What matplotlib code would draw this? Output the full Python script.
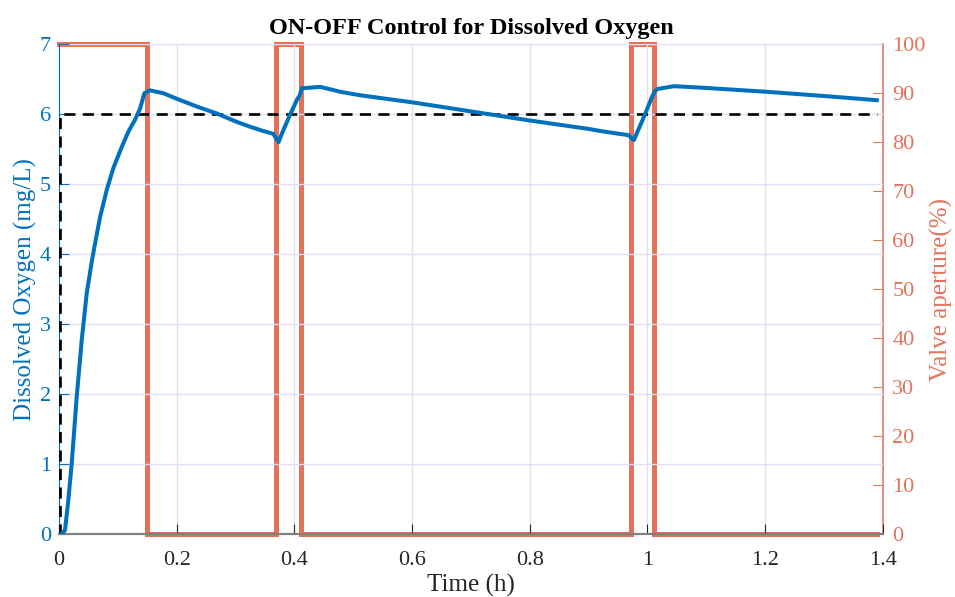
import numpy as np
import matplotlib
matplotlib.use('Agg')
import matplotlib.pyplot as plt

# dissolved oxygen trace (time in h, mg/L)
t_do = [0.0, 0.0044, 0.010, 0.0157, 0.0214, 0.0299, 0.0384, 0.0469, 0.0554, 0.061, 0.0696,
        0.081, 0.0922, 0.1064, 0.1177, 0.129, 0.1376, 0.145, 0.1546,
        0.177, 0.200, 0.234, 0.268, 0.302, 0.325, 0.347, 0.364, 0.373,
        0.381, 0.393, 0.404, 0.409, 0.4125, 0.444, 0.478,
        0.512, 0.600, 0.700, 0.800, 0.900, 0.920, 0.968, 0.977,
        0.994, 1.008, 1.013, 1.017, 1.045, 1.090, 1.203, 1.300, 1.390]
do_val = [0.0, 0.0, 0.06, 0.49, 1.01, 1.96, 2.77, 3.44, 3.89, 4.15, 4.53,
          4.92, 5.23, 5.53, 5.75, 5.92, 6.08, 6.30, 6.34,
          6.30, 6.22, 6.11, 6.01, 5.89, 5.82, 5.76, 5.72, 5.60,
          5.77, 6.00, 6.20, 6.27, 6.37, 6.39, 6.32,
          6.27, 6.17, 6.04, 5.91, 5.79, 5.76, 5.70, 5.63,
          5.96, 6.25, 6.33, 6.36, 6.40, 6.38, 6.32, 6.26, 6.20]

# setpoint (step at start)
t_sp = [0.0, 0.002, 0.002, 1.39]
sp_val = [0.0, 0.0, 6.0, 6.0]

# valve switching times and states (%)
t_valve = [0.0, 0.150, 0.150, 0.368, 0.368, 0.411, 0.411, 0.972, 0.972, 1.012, 1.012, 1.39]
valve = [100, 100, 0, 0, 100, 100, 0, 0, 100, 100, 0, 0]

BLUE = '#0072BD'
RED = '#E2725B'

plt.rcParams['font.family'] = ['Liberation Serif', 'DejaVu Serif']

fig = plt.figure(figsize=(9.55, 5.97), dpi=100)
ax = fig.add_axes([0.0619, 0.105, 0.8624, 0.821])
ax2 = ax.twinx()

ax2.plot(t_valve, valve, color=RED, lw=3.6, solid_joinstyle='miter', clip_on=False, zorder=2)
ax2.set_ylim(0, 100)
ax2.set_yticks(np.arange(0, 101, 10))
ax2.set_ylabel('Valve aperture(%)', color=RED, fontsize=18, labelpad=3)

ax.set_zorder(ax2.get_zorder() + 1)
ax.patch.set_visible(False)
ax.plot(t_sp, sp_val, color='black', lw=1.9, linestyle=(0, (4.2, 2.8)), zorder=3)
ax.plot(t_do, do_val, color=BLUE, lw=2.9, zorder=4)

ax.set_xlim(0, 1.4)
ax.set_ylim(0, 7)
ax.set_xticks(np.arange(0, 1.41, 0.2))
ax.set_xticklabels(['0', '0.2', '0.4', '0.6', '0.8', '1', '1.2', '1.4'])
ax.set_yticks(range(8))
ax.set_xlabel('Time (h)', fontsize=18, color='#262626', labelpad=2.5)
ax.set_ylabel('Dissolved Oxygen (mg/L)', color=BLUE, fontsize=18, labelpad=2)
ax.set_title('ON-OFF Control for Dissolved Oxygen', fontsize=17.5, fontweight='bold', pad=7)

ax.grid(axis='x', color='#e3e3e3', lw=1.0)
ax.grid(axis='y', color='#dfe0f7', lw=1.0)

ax.tick_params(axis='x', direction='in', length=7, width=0.8, colors='#262626', labelsize=16, pad=12)
ax.tick_params(axis='y', direction='in', length=7, width=0.8, colors=BLUE, labelsize=16, pad=6)
ax2.tick_params(axis='y', direction='in', length=7, width=0.8, colors=RED, labelsize=16, pad=7)

for a in (ax, ax2):
    a.spines['top'].set_visible(False)
    a.spines['bottom'].set_color('#7f7f7f')
    a.spines['bottom'].set_linewidth(1.5)
ax.spines['left'].set_color(BLUE)
ax.spines['right'].set_visible(False)
ax2.spines['left'].set_visible(False)
ax2.spines['right'].set_color(RED)
ax2.spines['right'].set_linewidth(1.2)

fig.savefig('out.png', dpi=100)
